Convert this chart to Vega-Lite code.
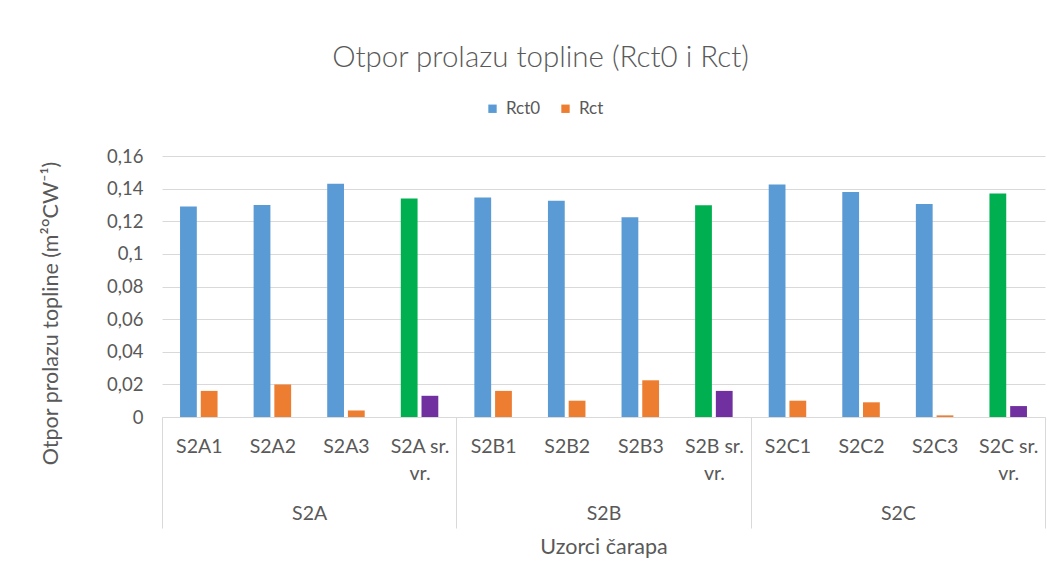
{
  "$schema": "https://vega.github.io/schema/vega-lite/v6.json",
  "autosize": "none",
  "width": 883,
  "height": 261,
  "padding": {"left": 162, "top": 156, "right": 16, "bottom": 168},
  "background": "white",
  "title": {
    "text": "Otpor prolazu topline (Rct0 i Rct)",
    "font": "Lato",
    "fontSize": 29.5,
    "fontWeight": 300,
    "color": "#595959",
    "anchor": "middle",
    "frame": "group",
    "dx": -63,
    "offset": 27
  },
  "data": {
    "values": [
      {"group": "S2A", "sample": "S2A1", "series": "Rct0", "colorKey": "Rct0", "value": 0.129},
      {"group": "S2A", "sample": "S2A1", "series": "Rct", "colorKey": "Rct", "value": 0.016},
      {"group": "S2A", "sample": "S2A2", "series": "Rct0", "colorKey": "Rct0", "value": 0.130},
      {"group": "S2A", "sample": "S2A2", "series": "Rct", "colorKey": "Rct", "value": 0.020},
      {"group": "S2A", "sample": "S2A3", "series": "Rct0", "colorKey": "Rct0", "value": 0.143},
      {"group": "S2A", "sample": "S2A3", "series": "Rct", "colorKey": "Rct", "value": 0.004},
      {"group": "S2A", "sample": "S2A sr. vr.", "series": "Rct0", "colorKey": "Rct0 sr. vr.", "value": 0.134},
      {"group": "S2A", "sample": "S2A sr. vr.", "series": "Rct", "colorKey": "Rct sr. vr.", "value": 0.013},
      {"group": "S2B", "sample": "S2B1", "series": "Rct0", "colorKey": "Rct0", "value": 0.1345},
      {"group": "S2B", "sample": "S2B1", "series": "Rct", "colorKey": "Rct", "value": 0.016},
      {"group": "S2B", "sample": "S2B2", "series": "Rct0", "colorKey": "Rct0", "value": 0.1325},
      {"group": "S2B", "sample": "S2B2", "series": "Rct", "colorKey": "Rct", "value": 0.010},
      {"group": "S2B", "sample": "S2B3", "series": "Rct0", "colorKey": "Rct0", "value": 0.1225},
      {"group": "S2B", "sample": "S2B3", "series": "Rct", "colorKey": "Rct", "value": 0.0225},
      {"group": "S2B", "sample": "S2B sr. vr.", "series": "Rct0", "colorKey": "Rct0 sr. vr.", "value": 0.1298},
      {"group": "S2B", "sample": "S2B sr. vr.", "series": "Rct", "colorKey": "Rct sr. vr.", "value": 0.016},
      {"group": "S2C", "sample": "S2C1", "series": "Rct0", "colorKey": "Rct0", "value": 0.1425},
      {"group": "S2C", "sample": "S2C1", "series": "Rct", "colorKey": "Rct", "value": 0.010},
      {"group": "S2C", "sample": "S2C2", "series": "Rct0", "colorKey": "Rct0", "value": 0.138},
      {"group": "S2C", "sample": "S2C2", "series": "Rct", "colorKey": "Rct", "value": 0.009},
      {"group": "S2C", "sample": "S2C3", "series": "Rct0", "colorKey": "Rct0", "value": 0.1305},
      {"group": "S2C", "sample": "S2C3", "series": "Rct", "colorKey": "Rct", "value": 0.001},
      {"group": "S2C", "sample": "S2C sr. vr.", "series": "Rct0", "colorKey": "Rct0 sr. vr.", "value": 0.137},
      {"group": "S2C", "sample": "S2C sr. vr.", "series": "Rct", "colorKey": "Rct sr. vr.", "value": 0.0067}
    ]
  },
  "layer": [
    {
      "mark": {"type": "bar"},
      "encoding": {
        "x": {
          "field": "sample",
          "type": "nominal",
          "sort": null,
          "scale": {"paddingInner": 0, "paddingOuter": 0},
          "axis": {
            "orient": "bottom",
            "title": null,
            "labelAngle": 0,
            "labelExpr": "indexof(datum.label, ' vr.') > 0 ? [replace(datum.label, ' vr.', ''), 'vr.'] : datum.label",
            "labelFont": "Lato",
            "labelFontSize": 19.5,
            "labelColor": "#595959",
            "labelLineHeight": 27,
            "labelBaseline": "top",
            "labelAlign": "center",
            "labelPadding": -91,
            "tickBand": "extent",
            "tickSize": 111,
            "tickColor": "#d9d9d9",
            "tickWidth": 1,
            "tickOpacity": {"condition": {"test": "!isValid(datum.value) || indexof(datum.value, 'vr.') >= 0", "value": 1}, "value": 0},
            "domainColor": "#d9d9d9",
            "domainWidth": 1,
            "grid": false
          }
        },
        "xOffset": {
          "field": "series",
          "type": "nominal",
          "sort": ["Rct0", "Rct"],
          "scale": {"paddingInner": 0.19, "paddingOuter": 0.87}
        },
        "y": {
          "field": "value",
          "type": "quantitative",
          "scale": {"domain": [0, 0.16], "nice": false},
          "axis": {
            "values": [0, 0.02, 0.04, 0.06, 0.08, 0.1, 0.12, 0.14, 0.16],
            "labelExpr": "replace(format(datum.value, '.2~f'), '.', ',')",
            "labelFont": "Lato",
            "labelFontSize": 18.5,
            "labelColor": "#595959",
            "labelPadding": 19,
            "domain": false,
            "ticks": false,
            "grid": true,
            "gridColor": "#d9d9d9",
            "gridWidth": 1,
            "title": "Otpor prolazu topline (m²°CW⁻¹)",
            "titleFont": "Lato",
            "titleFontSize": 21.5,
            "titleFontWeight": "normal",
            "titleColor": "#595959",
            "titleAngle": 270,
            "titleAlign": "center",
            "titleBaseline": "middle",
            "titleX": -111,
            "titleY": 157
          }
        },
        "color": {
          "field": "colorKey",
          "type": "nominal",
          "scale": {
            "domain": ["Rct0", "Rct", "Rct0 sr. vr.", "Rct sr. vr."],
            "range": ["#5B9BD5", "#ED7D31", "#00B050", "#7030A0"]
          },
          "legend": {
            "values": ["Rct0", "Rct"],
            "title": null,
            "orient": "none",
            "direction": "horizontal",
            "legendX": 322,
            "legendY": -56,
            "symbolType": "square",
            "symbolSize": 70,
            "symbolStrokeWidth": 0,
            "labelFont": "Lato",
            "labelFontSize": 17,
            "labelColor": "#595959",
            "columnPadding": 16,
            "labelOffset": 5
          }
        }
      }
    },
    {
      "mark": {"type": "point", "opacity": 0},
      "encoding": {
        "x": {
          "field": "group",
          "type": "nominal",
          "sort": null,
          "scale": {"paddingInner": 0, "paddingOuter": 0},
          "axis": {
            "orient": "bottom",
            "title": "Uzorci čarapa",
            "titleFont": "Lato",
            "titleFontSize": 21.5,
            "titleFontWeight": "normal",
            "titleColor": "#595959",
            "titlePadding": 14,
            "labelAngle": 0,
            "labelFont": "Lato",
            "labelFontSize": 19.5,
            "labelColor": "#595959",
            "labelBaseline": "top",
            "labelPadding": 87,
            "ticks": false,
            "domain": false,
            "grid": false
          }
        }
      }
    }
  ],
  "resolve": {"scale": {"x": "independent"}, "axis": {"x": "independent"}},
  "config": {
    "view": {"stroke": null}
  }
}
